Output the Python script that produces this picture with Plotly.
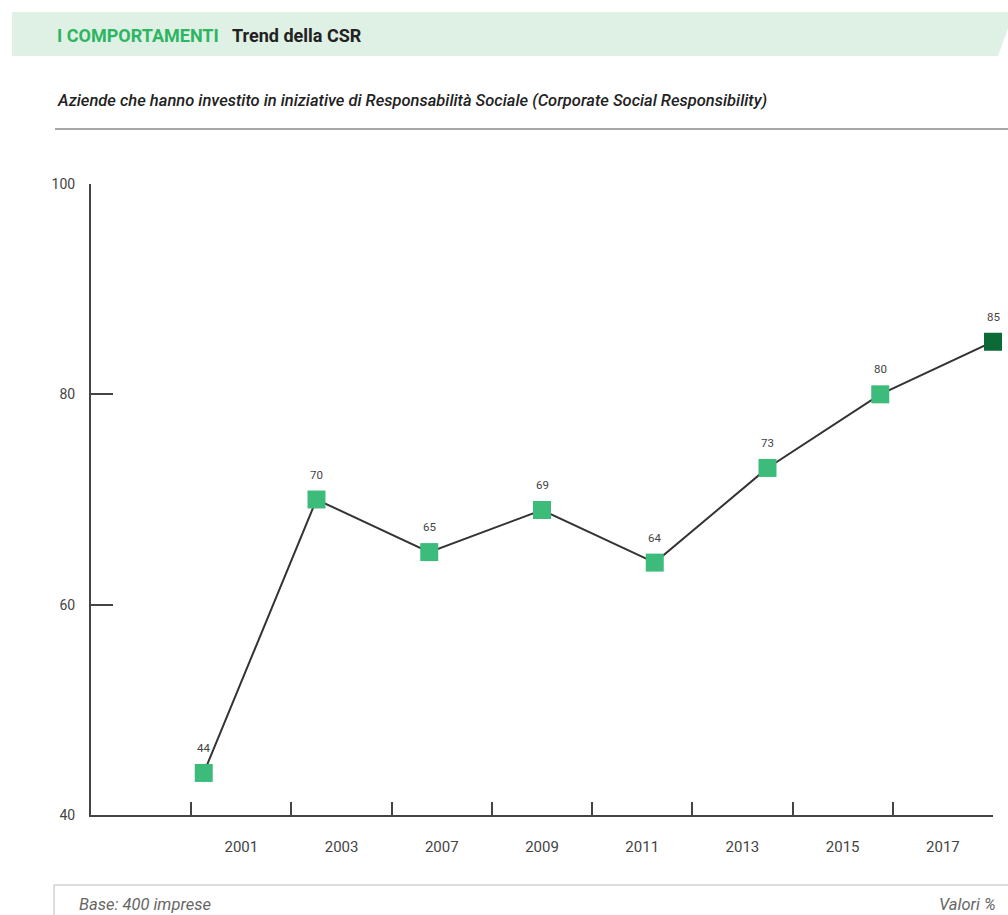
import plotly.graph_objects as go

years = ["2001", "2003", "2007", "2009", "2011", "2013", "2015", "2017"]
values = [44, 70, 65, 69, 64, 73, 80, 85]
marker_colors = ["#3dbb7b"] * 7 + ["#0b6a35"]
y_ticks = [40, 60, 80, 100]

W, H = 1008, 915
L, R, T, B = 91, 993, 184, 815


def px(x):
    return (x - L) / (R - L)


def py(y):
    return (B - y) / (B - T)


FONT = "Roboto"
fig = go.Figure()

# invisible trace carrying the category axis for the year labels
fig.add_trace(go.Scatter(
    x=years, y=values, mode="markers", marker=dict(opacity=0),
    hoverinfo="skip", showlegend=False, xaxis="x", yaxis="y"))

fig.add_trace(go.Scatter(
    x=years, y=values, mode="lines+markers",
    line=dict(color="#333333", width=2),
    marker=dict(symbol="square", size=18, color=marker_colors, line=dict(width=0)),
    xaxis="x2", yaxis="y", showlegend=False, cliponaxis=False, hoverinfo="skip"))

axis_col = "#444444"
fig.update_layout(
    width=W, height=H,
    margin=dict(l=L, r=W - R, t=T, b=H - B),
    paper_bgcolor="white", plot_bgcolor="white",
    font=dict(family=FONT, color="#444444"),
    xaxis=dict(type="category", categoryarray=years, categoryorder="array",
               range=[-1.5, 7.5], tickson="boundaries", ticks="inside",
               ticklen=13, tickwidth=2, tickcolor=axis_col,
               showline=True, linecolor=axis_col, linewidth=2,
               showgrid=False, zeroline=False, fixedrange=True,
               tickfont=dict(family=FONT, size=15, color="#444444"),
               ticklabelstandoff=17),
    xaxis2=dict(type="category", categoryarray=years, categoryorder="array",
                range=[-1, 7], overlaying="x", anchor="y", visible=False,
                fixedrange=True),
    yaxis=dict(range=[40, 100], tickvals=y_ticks, ticks="inside",
               ticklen=22, tickwidth=2, tickcolor=axis_col,
               showline=True, linecolor=axis_col, linewidth=2,
               showgrid=False, zeroline=False, fixedrange=True,
               tickfont=dict(family=FONT, size=14, color="#444444"),
               ticklabelstandoff=11),
    hovermode=False,
)

shapes = []
# header band with slanted right edge
shapes.append(dict(
    type="path", xref="paper", yref="paper",
    path=f"M {px(12)},{py(12)} L {px(1014)},{py(12)} L {px(998)},{py(56)} L {px(12)},{py(56)} Z",
    fillcolor="#dff0e5", line=dict(width=0), layer="below"))
# subtitle rule
shapes.append(dict(type="line", xref="paper", yref="paper",
                   x0=px(55), x1=px(1008), y0=py(129), y1=py(129),
                   line=dict(color="#8a8a8a", width=1.5)))
# footer box edges
shapes.append(dict(type="line", xref="paper", yref="paper",
                   x0=px(54), x1=px(1008), y0=py(885), y1=py(885),
                   line=dict(color="#d2d2d2", width=1.5)))
shapes.append(dict(type="line", xref="paper", yref="paper",
                   x0=px(54), x1=px(54), y0=py(885), y1=py(920),
                   line=dict(color="#d2d2d2", width=1.5)))

annotations = [
    dict(text="I COMPORTAMENTI", x=px(55), y=py(35), xref="paper", yref="paper",
         xanchor="left", yanchor="middle", showarrow=False,
         font=dict(family=FONT, size=18, color="#2db562", weight=700)),
    dict(text="Trend della CSR", x=px(230), y=py(35), xref="paper", yref="paper",
         xanchor="left", yanchor="middle", showarrow=False,
         font=dict(family=FONT, size=18, color="#222222", weight=700)),
    dict(text="Aziende che hanno investito in iniziative di Responsabilità Sociale (Corporate Social Responsibility)",
         x=px(55), y=py(100), xref="paper", yref="paper",
         xanchor="left", yanchor="middle", showarrow=False,
         font=dict(family=FONT, size=16.5, color="#222222", style="italic", weight=500)),
    dict(text="Base: 400 imprese", x=px(77), y=py(904), xref="paper", yref="paper",
         xanchor="left", yanchor="middle", showarrow=False,
         font=dict(family=FONT, size=16.5, color="#666666", style="italic")),
    dict(text="Valori %", x=px(998), y=py(904), xref="paper", yref="paper",
         xanchor="right", yanchor="middle", showarrow=False,
         font=dict(family=FONT, size=16.5, color="#666666", style="italic")),
]

# value labels above each marker, placed through the data axes
# (category axis: positions are the categories' serial numbers)
for i, v in enumerate(values):
    annotations.append(dict(
        text=str(v), x=i, y=v, xref="x2", yref="y",
        xanchor="center", yanchor="middle", yshift=25, showarrow=False,
        font=dict(family=FONT, size=11.5, color="#444444")))

fig.update_layout(shapes=shapes, annotations=annotations)

fig.write_html("out.html", config={"displayModeBar": False})
